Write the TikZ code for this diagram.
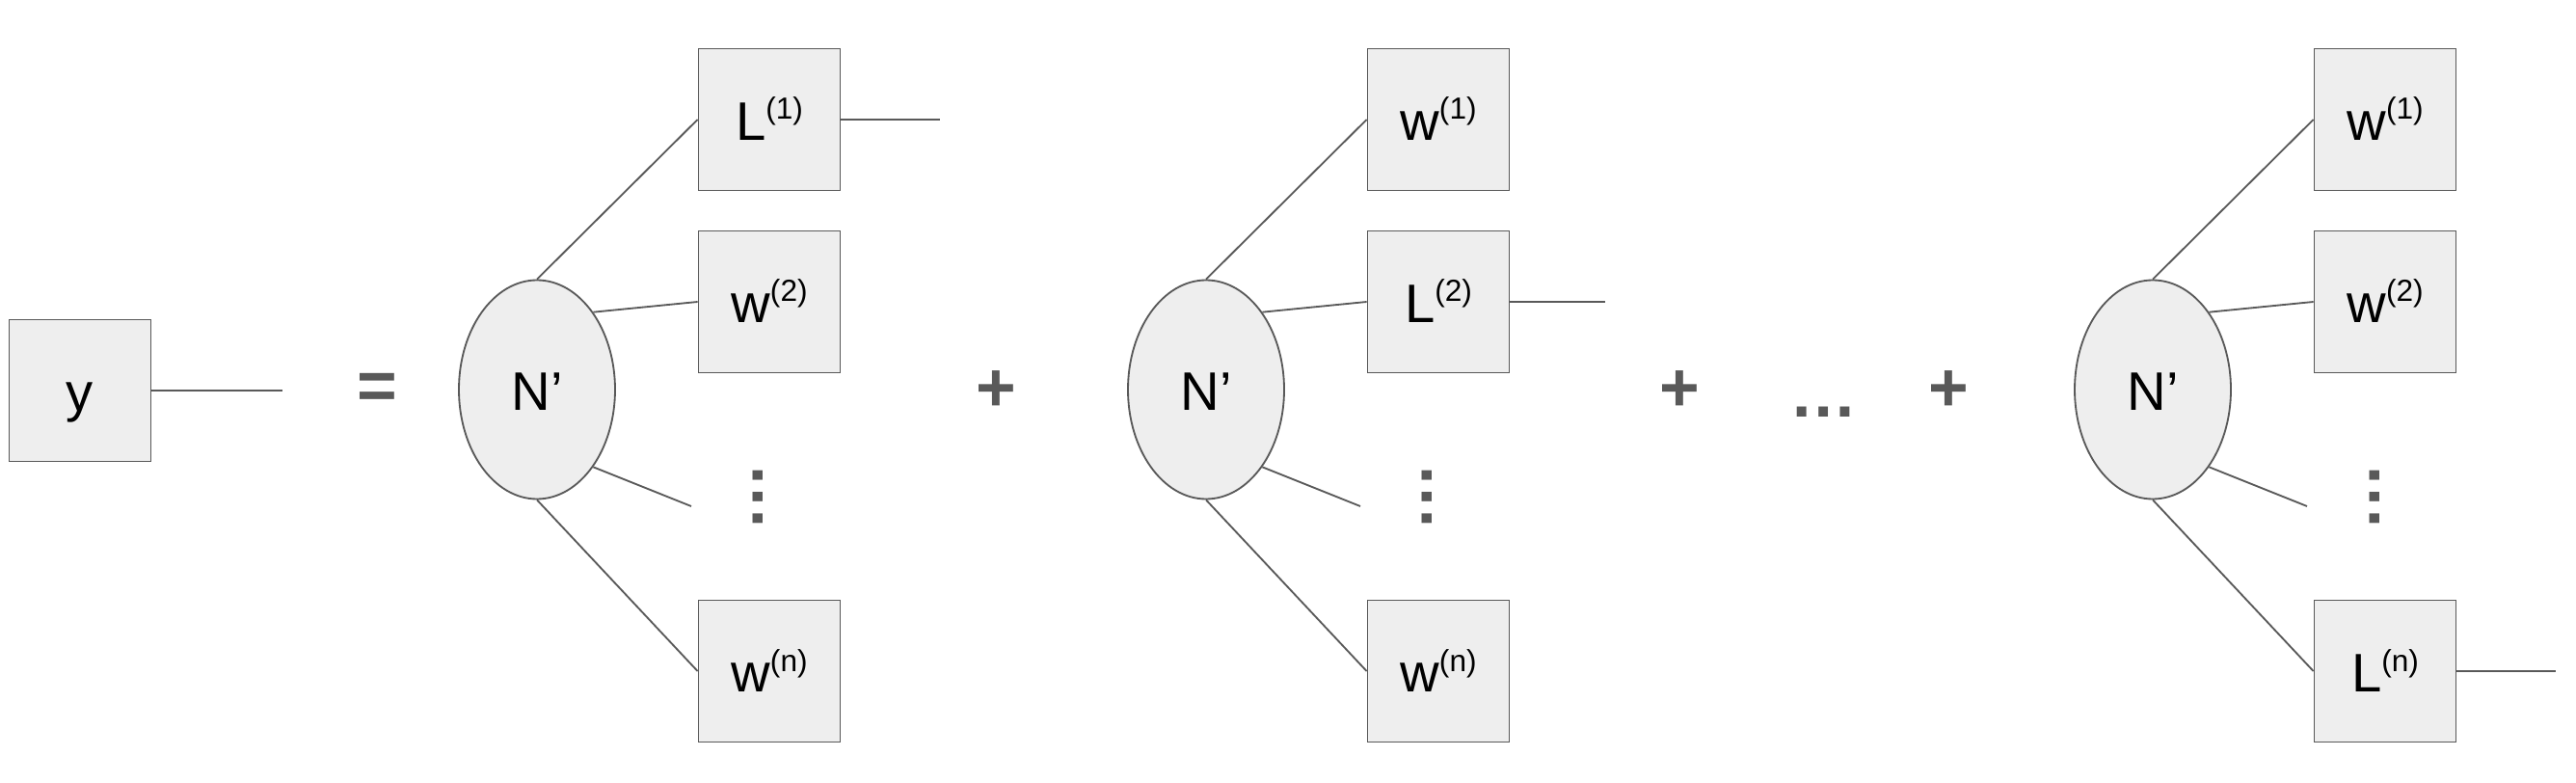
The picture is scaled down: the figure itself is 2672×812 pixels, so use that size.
\documentclass[tikz,border=0pt]{standalone}
\usepackage{fontspec}
\setmainfont{Liberation Sans}
\usetikzlibrary{shapes.geometric}
\definecolor{strokegray}{HTML}{595959}
\definecolor{boxfill}{HTML}{EEEEEE}
\newcommand{\sups}[1]{\raisebox{18pt}{\fontsize{27}{30}\selectfont(#1)}}
\tikzset{
 lab/.style={font=\fontsize{48}{56}\selectfont, text=black, text height=36pt, text depth=0pt, inner sep=0pt},
 tbox/.style={lab, draw=strokegray, fill=boxfill, line width=0.55mm, minimum width=44.1mm, minimum height=44.1mm},
 nell/.style={lab, ellipse, draw=strokegray, fill=boxfill, line width=0.55mm, minimum width=48.6mm, minimum height=68.1mm},
 wire/.style={draw=strokegray, line width=0.55mm},
 op/.style={font=\fontsize{61}{70}\selectfont\bfseries, text=strokegray, inner sep=0pt},
 dotsty/.style={font=\fontsize{60}{66}\selectfont\bfseries, text=strokegray, inner sep=0pt},
}
\begin{document}
\begin{tikzpicture}[x=0.3mm,y=-0.3mm]
\useasboundingbox (0,0) rectangle (2672,812);
% left side
\node[tbox] (y) at (83,405) {y};
\coordinate (yend) at (293,405);
\draw[wire] (y.east) -- (yend);
\node[op] (eq) at (391,405.5) {=};
% term 1
\node[nell] (e1) at (557,404) {N’};
\node[tbox] (a1) at (798,124) {L\sups{1}};
\node[tbox] (a2) at (798,313) {w\sups{2}};
\node[tbox] (an) at (798,696) {w\sups{n}};
\node[dotsty,rotate=90] (ad) at (786,515.5) {…};
\coordinate (af) at (717,525);
\coordinate (aout) at (975,124);
\draw[wire] (e1.north) -- (a1.west);
\draw[wire] (e1.54) -- (a2.west);
\draw[wire] (e1.-54) -- (af);
\draw[wire] (e1.south) -- (an.west);
\draw[wire] (a1.east) -- (aout);
\node[op] (p1) at (1033,405.5) {+};
% term 2
\node[nell] (e2) at (1251,404) {N’};
\node[tbox] (b1) at (1492,124) {w\sups{1}};
\node[tbox] (b2) at (1492,313) {L\sups{2}};
\node[tbox] (bn) at (1492,696) {w\sups{n}};
\node[dotsty,rotate=90] (bd) at (1480,515.5) {…};
\coordinate (bf) at (1411,525);
\coordinate (bout) at (1665,313);
\draw[wire] (e2.north) -- (b1.west);
\draw[wire] (e2.54) -- (b2.west);
\draw[wire] (e2.-54) -- (bf);
\draw[wire] (e2.south) -- (bn.west);
\draw[wire] (b2.east) -- (bout);
\node[op] (p2) at (1742,405.5) {+};
\node[dotsty] (hd) at (1892,427) {…};
\node[op] (p3) at (2021,405.5) {+};
% term 3
\node[nell] (e3) at (2233,404) {N’};
\node[tbox] (c1) at (2474,124) {w\sups{1}};
\node[tbox] (c2) at (2474,313) {w\sups{2}};
\node[tbox] (cn) at (2474,696) {L\sups{n}};
\node[dotsty,rotate=90] (cd) at (2463,515.5) {…};
\coordinate (cf) at (2393,525);
\coordinate (cout) at (2651,696);
\draw[wire] (e3.north) -- (c1.west);
\draw[wire] (e3.54) -- (c2.west);
\draw[wire] (e3.-54) -- (cf);
\draw[wire] (e3.south) -- (cn.west);
\draw[wire] (cn.east) -- (cout);
\end{tikzpicture}
\end{document}
